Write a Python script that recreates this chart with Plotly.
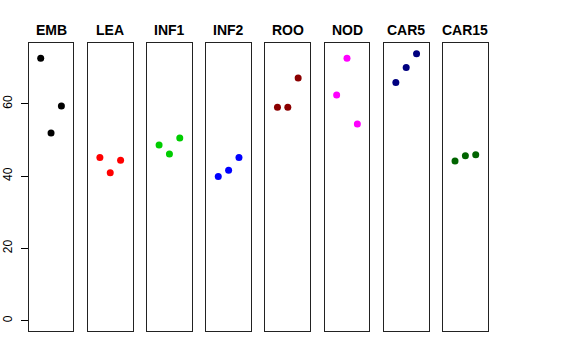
import plotly.graph_objects as go

panels = ["EMB", "LEA", "INF1", "INF2", "ROO", "NOD", "CAR5", "CAR15"]
x_positions = [1, 2, 3]
emb = [72.6, 51.9, 59.4]
lea = [45.1, 40.9, 44.4]
inf1 = [48.6, 46.1, 50.5]
inf2 = [39.9, 41.6, 45.1]
roo = [59.0, 59.0, 67.1]
nod = [62.4, 72.6, 54.4]
car5 = [65.9, 70.0, 73.8]
car15 = [44.2, 45.6, 45.9]
colors = ["#000000", "#FF0000", "#00CD00", "#0000FF", "#8B0000", "#FF00FF", "#000080", "#006400"]
y_ticks = [0, 20, 40, 60]

series = [emb, lea, inf1, inf2, roo, nod, car5, car15]

W, H = 576, 360
left0, pitch, pw = 28.7, 59.19, 44.7
top_px, bot_px = 43, 331
yd = [(H - bot_px) / H, (H - top_px) / H]

fig = go.Figure()
layout = dict(width=W, height=H, margin=dict(l=0, r=0, t=0, b=0),
              paper_bgcolor="white", plot_bgcolor="white", showlegend=False,
              font=dict(family="Liberation Sans, Arial, sans-serif", color="black"))
annotations = []
for i, (name, vals, col) in enumerate(zip(panels, series, colors)):
    sfx = "" if i == 0 else str(i + 1)
    fig.add_trace(go.Scatter(x=x_positions, y=vals, mode="markers",
                             marker=dict(color=col, size=7),
                             xaxis="x" + sfx, yaxis="y" + sfx, hoverinfo="skip"))
    x0 = (left0 + i * pitch) / W
    x1 = (left0 + i * pitch + pw) / W
    layout["xaxis" + sfx] = dict(domain=[x0, x1], range=[-0.16, 4.16], showgrid=False,
                                 zeroline=False, showticklabels=False, ticks="",
                                 showline=True, mirror=True, linecolor="#222", linewidth=1,
                                 anchor="y" + sfx, fixedrange=True, automargin=False)
    ya = dict(domain=yd, range=[-2.85, 76.8], showgrid=False, zeroline=False,
              showline=True, mirror=True, linecolor="#222", linewidth=1,
              anchor="x" + sfx, fixedrange=True, automargin=False)
    if i == 0:
        ya.update(tickvals=y_ticks, ticktext=[str(v) for v in y_ticks], ticks="outside",
                  ticklen=7, tickcolor="black", tickangle=-90,
                  tickfont=dict(size=12, color="black"), ticklabelstandoff=4)
    else:
        ya.update(showticklabels=False, ticks="")
    layout["yaxis" + sfx] = ya
    annotations.append(dict(text="<b>" + name + "</b>", x=(x0 + x1) / 2, y=(H - 30) / H,
                            xref="paper", yref="paper", showarrow=False,
                            xanchor="center", yanchor="middle",
                            font=dict(size=14, color="black")))
layout["annotations"] = annotations
fig.update_layout(**layout)
fig.write_html("out.html", config={"displayModeBar": False},
               post_script="document.body.style.margin='0';document.body.style.padding='0';")
